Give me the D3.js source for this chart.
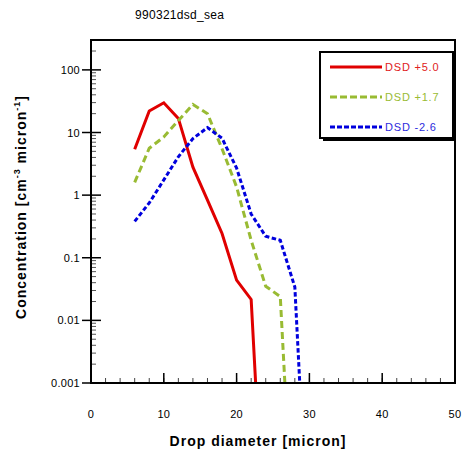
<!DOCTYPE html>
<html><head><meta charset="utf-8">
<script src="https://cdn.jsdelivr.net/npm/d3@7"></script>
<style>body{margin:0;background:#fff}svg{display:block}text{font-family:"Liberation Sans",Arial,sans-serif}</style>
</head><body>
<svg id="c" width="463" height="452"></svg>
<script>
const diameters = [6, 8, 10, 12, 14, 16, 18, 20, 22, 24, 26, 28, 30];
const dsdPlus50 = [5.4, 22, 29.8, 16.8, 2.8, 0.83, 0.244, 0.044, 0.0216, 1e-6];
const dsdPlus17 = [1.6, 5.6, 8.5, 15.5, 28, 20, 5.5, 1.35, 0.19, 0.035, 0.024, 1e-6];
const dsdMinus26 = [0.38, 0.75, 1.75, 4.1, 8, 12, 8.1, 2.7, 0.5, 0.22, 0.19, 0.034, 1e-6];
const seriesNames = ["DSD +5.0", "DSD +1.7", "DSD -2.6"];
const seriesColors = ["#e00000", "#99bb33", "#0000dd"];
const textColors = ["#e02020", "#99bb33", "#2b2bdd"];
const dashes = [null, "7,4", "4.5,2.5"];
const legendDashes = [null, "7,3", "5,2"];
const xTicks = [0, 10, 20, 30, 40, 50];
const yTicks = [0.001, 0.01, 0.1, 1, 10, 100];
const yTickLabels = ["0.001", "0.01", "0.1", "1", "10", "100"];
const title = "990321dsd_sea";

const svg = d3.select("#c");
const L = 91, R = 455, T = 40, B = 383;
const x = d3.scaleLinear().domain([0, 50]).range([L, R]);
const y = d3.scaleLog().domain([0.001, 300]).range([B, T]);

svg.append("text").attr("x", 135).attr("y", 19).attr("font-size", 12).attr("letter-spacing", 0.3).text(title);

svg.append("defs").append("clipPath").attr("id", "clip")
  .append("rect").attr("x", L).attr("y", T).attr("width", R - L).attr("height", B - T);

// series
const allSeries = [dsdPlus50, dsdPlus17, dsdMinus26];
const line = d3.line().x(d => x(d[0])).y(d => y(d[1]));
allSeries.forEach((vals, i) => {
  const pts = vals.map((v, j) => [diameters[j], v]);
  svg.append("path").attr("clip-path", "url(#clip)")
    .attr("d", line(pts)).attr("fill", "none")
    .attr("stroke", seriesColors[i]).attr("stroke-width", 3)
    .attr("stroke-dasharray", dashes[i]).attr("stroke-linejoin", "miter");
});

// y ticks
const yg = svg.append("g");
yTicks.forEach((t, i) => {
  yg.append("line").attr("x1", L - 9).attr("x2", L + 10).attr("y1", y(t)).attr("y2", y(t)).attr("stroke", "#000").attr("stroke-width", 1.5);
  yg.append("text").attr("x", L - 11).attr("y", y(t) + 4).attr("text-anchor", "end").attr("font-size", 11).attr("letter-spacing", 0.3).text(yTickLabels[i]);
  if (t < 100) {
    for (let m = 2; m <= 9; m++) {
      const v = t * m;
      yg.append("line").attr("x1", L).attr("x2", L + 5).attr("y1", y(v)).attr("y2", y(v)).attr("stroke", "#555").attr("stroke-width", 1);
    }
  } else {
    [200, 300].forEach(v => yg.append("line").attr("x1", L).attr("x2", L + 5).attr("y1", y(v)).attr("y2", y(v)).attr("stroke", "#555").attr("stroke-width", 1));
  }
});

// x ticks
const xg = svg.append("g");
d3.range(0, 51, 2).forEach(v => {
  xg.append("line").attr("x1", x(v)).attr("x2", x(v)).attr("y1", B).attr("y2", B - 5).attr("stroke", "#444").attr("stroke-width", 1);
});
xTicks.forEach(t => {
  xg.append("line").attr("x1", x(t)).attr("x2", x(t)).attr("y1", B).attr("y2", B - 10).attr("stroke", "#000").attr("stroke-width", 1.5);
  xg.append("text").attr("x", x(t)).attr("y", 418).attr("text-anchor", "middle").attr("font-size", 11).attr("letter-spacing", 0.3).text(t);
});

// frame
svg.append("rect").attr("x", L).attr("y", T).attr("width", R - L).attr("height", B - T)
  .attr("fill", "none").attr("stroke", "#000").attr("stroke-width", 2);

// axis titles
svg.append("text").attr("x", 258).attr("y", 446).attr("text-anchor", "middle")
  .attr("font-size", 14).attr("font-weight", "bold").attr("letter-spacing", 1).text("Drop diameter [micron]");
const yt = svg.append("text").attr("transform", "translate(26,207) rotate(-90)").attr("text-anchor", "middle")
  .attr("font-size", 14).attr("font-weight", "bold").attr("letter-spacing", 1);
yt.append("tspan").text("Concentration [cm");
yt.append("tspan").attr("dy", -6).attr("font-size", 9).text("-3");
yt.append("tspan").attr("dy", 6).text(" micron");
yt.append("tspan").attr("dy", -6).attr("font-size", 9).text("-1");
yt.append("tspan").attr("dy", 6).text("]");

// legend
const lg = svg.append("g");
lg.append("rect").attr("x", 323).attr("y", 55).attr("width", 133).attr("height", 86).attr("fill", "#000");
lg.append("rect").attr("x", 320).attr("y", 52).attr("width", 133).attr("height", 86).attr("fill", "#fff").attr("stroke", "#000").attr("stroke-width", 2);
seriesNames.forEach((n, i) => {
  const yy = 67 + i * 30;
  lg.append("line").attr("x1", 330).attr("x2", 382).attr("y1", yy).attr("y2", yy)
    .attr("stroke", seriesColors[i]).attr("stroke-width", 3).attr("stroke-dasharray", legendDashes[i]);
  lg.append("text").attr("x", 385).attr("y", yy + 4).attr("font-size", 11).attr("letter-spacing", 0.8).attr("fill", textColors[i]).text(n);
});
</script>
</body></html>
